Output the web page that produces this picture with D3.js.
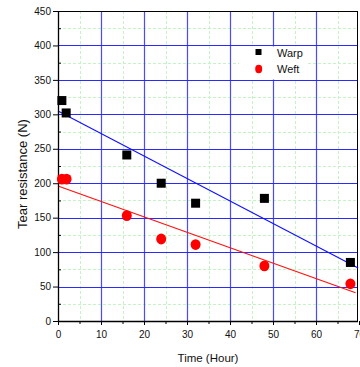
<!DOCTYPE html>
<html>
<head>
<meta charset="utf-8">
<script src="https://cdn.jsdelivr.net/npm/d3@7"></script>
<style>
body { margin:0; background:#fff; }
svg text { font-family: "Liberation Sans", Arial, sans-serif; fill:#111; }
</style>
</head>
<body>
<div id="chart"></div>
<script>
var W = 360, H = 367;
var margin = {top: 11, right: 2, bottom: 46, left: 58};

var warpTime = [0.9, 1.9, 16, 24, 32, 48, 68];
var warpTear = [320, 302, 241, 200, 171, 178, 85];
var weftTime = [0.9, 2, 16, 24, 32, 48, 68];
var weftTear = [206, 206, 153, 119, 111, 80, 54];
// linear fits [start, end]
var warpFitX = [0, 69.8], warpFitY = [305, 77];
var weftFitX = [0, 69.2], weftFitY = [196, 41];

var xTicks = [0, 10, 20, 30, 40, 50, 60, 70];
var yTicks = [0, 50, 100, 150, 200, 250, 300, 350, 400, 450];
var xMinor = d3.range(5, 70, 10);
var yMinor = d3.range(25, 450, 50);

var x0 = margin.left, x1 = W - margin.right;
var y0 = H - margin.bottom, y1 = margin.top;

var x = d3.scaleLinear().domain([0, 70]).range([x0, x0 + 301]);
var y = d3.scaleLinear().domain([0, 450]).range([y0, y1]);

var svg = d3.select("#chart").append("svg")
	.attr("width", W).attr("height", H);

// minor grid (green dashed)
svg.append("g").selectAll("line").data(xMinor).enter().append("line")
	.attr("x1", function(d){return Math.round(x(d)) + 0.5}).attr("x2", function(d){return Math.round(x(d)) + 0.5})
	.attr("y1", y1).attr("y2", y0)
	.attr("stroke", "#c4f4c4").attr("stroke-width", 1).attr("stroke-dasharray", "3,2");
svg.append("g").selectAll("line").data(yMinor).enter().append("line")
	.attr("y1", function(d){return Math.round(y(d)) + 0.5}).attr("y2", function(d){return Math.round(y(d)) + 0.5})
	.attr("x1", x0).attr("x2", x1)
	.attr("stroke", "#c4f4c4").attr("stroke-width", 1).attr("stroke-dasharray", "3,2");

// major grid (blue)
svg.append("g").selectAll("line").data(xTicks.slice(1, -1)).enter().append("line")
	.attr("x1", function(d){return Math.round(x(d)) + 0.5}).attr("x2", function(d){return Math.round(x(d)) + 0.5})
	.attr("y1", y1).attr("y2", y0)
	.attr("stroke", "#4a4aff").attr("stroke-width", 1.2);
svg.append("g").selectAll("line").data(yTicks.slice(1, -1)).enter().append("line")
	.attr("y1", function(d){return Math.round(y(d)) + 0.5}).attr("y2", function(d){return Math.round(y(d)) + 0.5})
	.attr("x1", x0).attr("x2", x1)
	.attr("stroke", "#2a2aff").attr("stroke-width", 1.2);

// legend box
var lg = svg.append("g");
lg.append("rect").attr("x", 239).attr("y", 46.5).attr("width", 68).attr("height", 33)
	.attr("fill", "#fff");
lg.append("rect").attr("x", 255.5).attr("y", 49).attr("width", 6).attr("height", 6).attr("fill", "#000");
lg.append("ellipse").attr("cx", 258.7).attr("cy", 69).attr("rx", 3.5).attr("ry", 4.2).attr("fill", "#ff0000");
lg.append("text").attr("x", 277).attr("y", 56.5).style("font-size", "11px").text("Warp");
lg.append("text").attr("x", 277).attr("y", 72.5).style("font-size", "11px").text("Weft");

// frame
svg.append("line").attr("x1", x0).attr("x2", x1).attr("y1", y1 + 0.5).attr("y2", y1 + 0.5).attr("stroke", "#000");
svg.append("line").attr("x1", x1 - 0.5).attr("x2", x1 - 0.5).attr("y1", y1).attr("y2", y0).attr("stroke", "#000");

// fit lines
var line = d3.line().x(function(d){return x(d[0])}).y(function(d){return y(d[1])});
svg.append("path").datum(d3.zip(warpFitX, warpFitY)).attr("d", line)
	.attr("fill", "none").attr("stroke", "#1010ff").attr("stroke-width", 1.1);
svg.append("path").datum(d3.zip(weftFitX, weftFitY)).attr("d", line)
	.attr("fill", "none").attr("stroke", "#ff1010").attr("stroke-width", 1.1);

// axes
var xAxis = d3.axisBottom(x).tickValues(xTicks).tickSize(4).tickPadding(6).tickFormat(d3.format("d"));
var gx = svg.append("g").attr("transform", "translate(0," + y0 + ")").call(xAxis);
var xMin = d3.axisBottom(x).tickValues(xMinor).tickSize(3).tickFormat("");
svg.append("g").attr("transform", "translate(0," + y0 + ")").call(xMin).select(".domain").remove();

var yAxis = d3.axisLeft(y).tickValues(yTicks).tickSize(5).tickPadding(2).tickFormat(d3.format("d"));
var gy = svg.append("g").attr("transform", "translate(" + x0 + ",0)").call(yAxis);
var yMin = d3.axisRight(y).tickValues(yMinor).tickSize(3).tickFormat("");
svg.append("g").attr("transform", "translate(" + x0 + ",0)").call(yMin).select(".domain").remove();

svg.selectAll(".domain").attr("stroke", "#000").attr("stroke-width", 1.3);
svg.selectAll(".tick line").attr("stroke", "#000");
svg.selectAll(".tick text").style("font-size", "10px").attr("fill", "#111");
gx.select(".domain").attr("d", "M" + x0 + ",0.5H" + x1);
gy.select(".domain").attr("d", "M0.5," + y0 + "V" + y1);

// points
svg.append("g").selectAll("rect").data(d3.zip(warpTime, warpTear)).enter().append("rect")
	.attr("x", function(d){return x(d[0]) - 4.5})
	.attr("y", function(d){return y(d[1]) - 4.5})
	.attr("width", 9).attr("height", 9).attr("fill", "#000");
svg.append("g").selectAll("ellipse").data(d3.zip(weftTime, weftTear)).enter().append("ellipse")
	.attr("cx", function(d){return x(d[0])})
	.attr("cy", function(d){return y(d[1])})
	.attr("rx", 5).attr("ry", 5.4).attr("fill", "#ff0000");

// axis titles
svg.append("text").attr("x", 208).attr("y", 362).attr("text-anchor", "middle")
	.style("font-size", "11.5px").text("Time (Hour)");
svg.append("text").attr("transform", "translate(27,174) rotate(-90)").attr("text-anchor", "middle")
	.style("font-size", "13px").text("Tear resistance (N)");
</script>
</body>
</html>
